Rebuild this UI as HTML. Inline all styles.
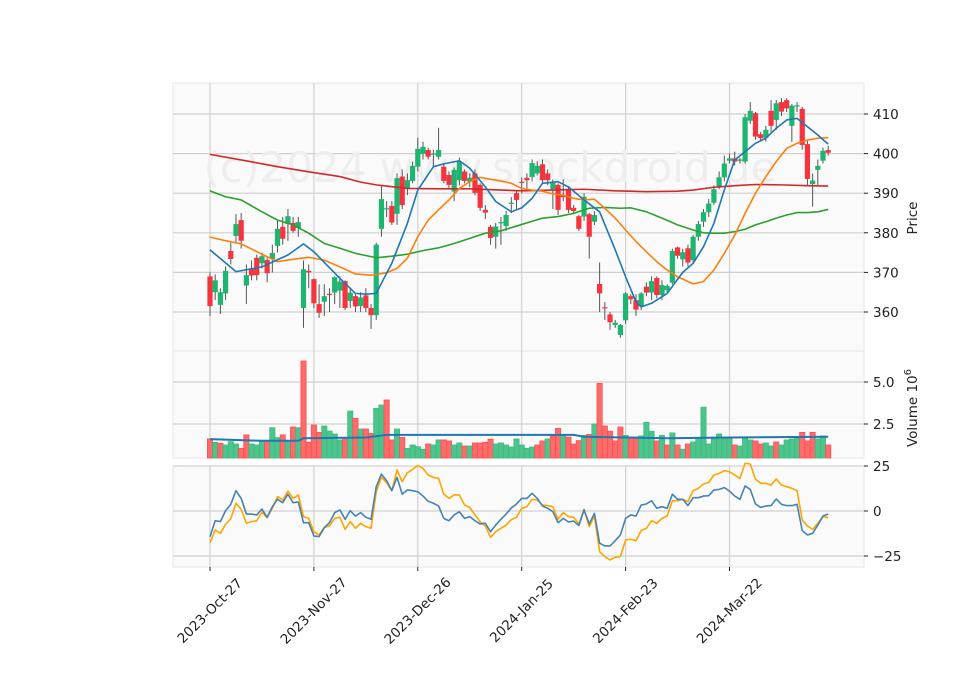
<!DOCTYPE html>
<html><head><meta charset="utf-8"><style>
body{margin:0;background:#fff;}
svg{display:block;font-family:"DejaVu Sans","Liberation Sans",sans-serif;}
</style></head><body>
<svg id="chart" width="960" height="690" viewBox="0 0 960 690">
<text x="490" y="182" font-size="42" fill="#eeeeee" text-anchor="middle">(c)2024 www.stockdroid.de</text>
</svg>
<script>
const opens=[369,365,361.8,364.7,375.4,379.2,383.2,366.7,370.8,373.7,372.3,373.1,373.4,376.7,381.5,382.2,382.5,381.2,361,370.4,368.3,362,362.6,364.6,364.9,365.4,367.8,362.8,364,361.5,364.2,361,359.2,381,386,386.8,384.8,394.2,391.3,393.1,396.7,399.9,400.9,399.8,399.2,396.7,394.6,390.4,393.3,395.5,392.9,395,392.1,385.8,381.5,379,382.5,381.7,387.3,390,392.9,393.9,394.1,395,397.3,395,391,392.1,389.5,390.8,386.3,384.2,384.1,384.7,382.8,367.1,361.2,359.4,356.7,354.2,357.9,364,363,361.4,366.4,364.9,368.6,364.3,365.5,367.4,376.3,373.3,376.1,373.1,379,382.8,385.2,387.6,391.6,394,398.2,398.8,398.2,398,408.3,410.2,404.9,404,410.8,408.5,413,413.5,407,412,411.3,402.4,392.3,395.9,398.2,400.9];
const closes=[361.5,368,365,370.4,373.4,382.2,378,369.3,369.2,369.3,374.1,369.8,374.9,381,378.5,384.2,380.5,382.7,370.8,370,362.2,359.8,364,364.4,368.8,367.7,361,364.9,361.4,363.7,361,359.2,377,388.5,386.2,382.6,393.8,387,393.3,396.9,401.2,401.7,399.2,400,400.9,393.1,392.1,395.9,398,393.1,393.9,390.1,386.3,385.1,378.7,381.6,382.7,384.5,387.6,388.3,392.6,393.3,397.6,396.9,393.3,393.3,392.6,385.8,389,385.8,385.5,381,389.1,379,384.5,364.7,361,357.4,357.3,356.7,364.7,363.2,360.6,364.7,364.9,367.8,364.3,366.8,366.6,375.4,374.2,375.1,372.5,379,382.2,385.2,387.4,391,394,397.5,398.8,398,398.5,409.2,410.8,404.3,403.9,406,407,412.7,410.6,411.4,412.1,412.2,402.2,393.6,393.2,396.9,400.7,400.2];
const highs=[370,369.5,366,371.5,377.5,384.7,385,372,373,374.5,375,374,377,383,384,386,384,384,373,372,368.5,367,367,366,369,369,368,366,364.5,365,366,362,377.5,392,388,388,395,396,395,398,404,403,401.5,401,406.5,397.5,395.5,396.5,399,396,395,396,392.5,387,382,382.5,384,385.5,389,390.5,394,395,398.5,398,398.5,396,393.5,392.5,393.5,391.5,387,384.5,390,385,385.5,372.5,362.5,360,358,357,365,364.5,364.5,365,367.5,369,369,368,367,376,376.5,376,377,379.5,383,386,388.5,392,395.5,399.5,400,400.5,399,410,413,410.5,405.5,407,413.5,413.5,414,414,412.5,413,411.8,403.5,395,398.5,401.5,402];
const lows=[359,363,359.5,363,372,377.4,376,362,368,368,371,367.5,370,375,377,378,380,379,356,366,361,358.5,359,360,362,361,360.5,361,360,360,360,355.7,358,379,384,382,382,386,389.5,392.5,395.5,398.5,398.5,396.5,398.5,392.5,391,388,392,392.5,391.5,389.5,385.5,383.5,377,376,377,380.5,385,386,390,391,393,394.5,392.5,392,386,384.5,388,385,385,380.5,383,373.5,382,360,358,355.5,356,353.5,357,362,359,360.5,364,363,363.5,363,365,367,373.5,371.5,371.5,372.5,378,381.5,384,387,391,393,397.5,397,397.5,397.5,407.5,403.5,403,403,405.5,406,409.5,410.5,403,410.5,401,392,386.6,392,397.5,399.5];
const volumes=[1.61,1.41,1.35,1.25,1.45,1.31,1.05,1.85,1.31,1.25,1.45,1.49,2.28,1.69,1.85,1.49,2.32,2.28,6.25,1.41,2.44,2.0,2.38,2.08,1.9,1.55,1.69,3.27,2.84,2.2,2.2,1.94,3.43,3.63,3.93,1.55,2.2,1.7,1.05,1.25,1.15,1.0,1.31,1.25,1.55,1.55,1.49,1.25,1.37,1.19,1.19,1.37,1.37,1.41,1.59,1.31,1.37,1.25,1.13,1.61,1.25,1.05,1.13,1.25,1.49,1.61,1.79,2.24,1.88,1.72,1.31,1.51,1.82,1.88,2.5,4.92,2.38,2.07,1.49,2.32,1.82,1.72,1.72,1.79,2.6,2.07,1.49,1.82,1.25,1.97,1.25,1.0,1.31,1.43,1.67,3.5,1.31,1.61,1.91,1.61,1.67,1.25,1.19,1.67,1.55,1.49,1.31,1.37,1.19,1.43,1.25,1.55,1.61,1.67,2.0,1.49,2.0,1.61,1.79,1.25];
const volUp=[0,1,0,1,1,1,0,0,1,1,1,0,1,1,0,1,0,1,0,0,0,0,1,1,1,1,0,1,0,1,0,0,1,1,0,0,1,0,1,1,1,1,0,1,1,0,0,1,1,0,1,0,0,0,0,1,1,1,1,1,1,1,1,0,0,1,0,0,1,0,0,0,1,0,1,0,0,0,0,0,1,0,0,1,1,1,0,1,0,1,0,1,0,1,1,1,1,1,1,1,1,0,1,1,1,0,0,1,1,0,1,1,1,1,0,0,0,1,1,0];
const maShortIdx=[0,5,10,15,18,20,25,28,30,32,35,38,40,43,45,48,50,53,55,58,60,62,64,67,69,72,75,78,80,82,83,85,88,91,93,95,97,99,101,103,105,107,109,111,113,115,117,119];
const maShortVal=[375.7,370.2,371.4,374.4,377.2,375.2,368.5,364.7,364.5,364.7,372.3,382.4,390.8,396.7,397.4,398.2,396.3,391.6,387.9,385.3,386.3,388.7,392.5,392.9,391.6,388.3,385.3,375.7,368.9,362.6,361.3,362.2,364.7,370,372.3,376.5,382.4,390.8,398.4,400.5,402.6,403.9,406.4,408.5,408.9,406.8,404.7,402.4];
const maMidIdx=[0,3,6,10,13,16,19,22,25,28,31,34,36,38,40,42,44,46,48,50,52,54,56,58,60,62,64,66,68,70,72,74,76,78,80,82,84,86,88,90,93,95,97,99,101,103,105,107,109,111,113,115,117,119];
const maMidVal=[378.9,378,377.2,374.6,372.7,373.3,373.8,373.1,371.4,369.6,369.3,369.9,371,373.6,379,383.2,385.8,388.3,391.2,392.9,394,393.5,393.1,392.5,391.2,390.8,390.5,389.8,389.5,388.7,388.3,388.5,386.2,383.7,380.7,377.8,375.2,372.7,370.6,368.9,367.1,367.7,370.6,374.8,379.4,384.9,390,394.2,398,401.3,402.6,403.4,403.9,404];
const maLongIdx=[0,3,6,10,13,16,19,22,25,28,32,35,38,41,44,47,50,53,56,59,61,64,67,70,73,76,79,81,84,87,90,93,95,97,99,101,103,105,107,109,111,113,115,117,119];
const maLongVal=[390.6,389.1,388.3,385.3,383.2,382,379.9,377.3,376.1,374.8,373.7,374.1,374.6,375.5,376.2,377.3,378.6,379.9,380.5,381.7,382.5,383.7,384.1,384.9,386.2,386.4,386.2,386.3,385.3,383.7,382,380.7,380,379.9,379.9,380.3,380.9,382,382.8,383.7,384.5,385.1,385.1,385.3,385.9];
const ma200Idx=[0,6,13,19,25,29,32,38,44,50,56,60,66,72,78,84,90,93,97,101,105,110,115,119];
const ma200Val=[399.8,398.4,396.7,395.4,394.2,392.8,392.1,391.2,391.1,391.1,390.8,390.6,390.8,391,390.6,390.4,390.5,390.8,391.5,391.9,392.2,392.1,391.9,391.8];
const volMaIdx=[0,10,17,18,30,34,60,70,72,80,88,100,119];
const volMaVal=[1.6,1.5,1.5,1.65,1.7,1.85,1.85,1.85,1.74,1.7,1.65,1.7,1.74];
const oscBlue=[-14.3,-5.4,-5.9,0.2,3.7,11.3,7,-1.7,-1.7,-2.2,1.1,-3.5,2.4,6.5,4.6,9.3,4.6,5,-6.5,-6.5,-13.9,-14.2,-9.3,-6.5,-0.9,0.6,-4.6,0.2,-2.8,-0.9,-3.5,-4.6,13.5,20.5,16.8,11.3,18.7,9.4,11.7,11.3,10.7,8.3,5.4,4.3,2.8,-4.1,-5.4,-2.2,-0.4,-4.1,-3.1,-5.4,-7.2,-6.8,-11.5,-7.8,-4.6,-1.7,1.7,3.9,7,7,9.8,7,2.8,1.5,-0.4,-6.5,-4.1,-6.1,-5.6,-8.1,0.6,-7.2,-1.3,-17.9,-19.4,-19.4,-16.5,-13.3,-4.1,-2.2,-2.8,3.3,3.9,5.7,1.5,2.4,1.5,9.3,6.5,6.5,3,7.4,7.4,8.3,8.5,11.7,12,13,11.1,8.3,6.5,13.9,12,3.9,2,2.8,3,6.7,3.7,3,3,3.7,-10.9,-13.3,-12.4,-7.8,-2.8,-1.7];
const oscOrange=[-17.6,-10.5,-12.4,-7.4,-4.3,4.3,0.9,-6.8,-5.9,-5.4,-0.7,-3.7,1.5,8,6.1,11.1,7,8.9,-3.1,-4.1,-11.5,-13.3,-9.1,-8.3,-4.1,-3.5,-10.2,-5.9,-9.6,-6.8,-8.7,-9.6,10.7,18.7,15.7,11.3,22.8,16.3,21.3,23.1,25.3,23.7,20,18.7,18.1,9.4,7,8.9,8.9,3.3,2,-2.2,-5.9,-8.3,-14.6,-11.5,-9.6,-7.8,-4.8,-3.5,1.5,2.4,6.5,6.1,3.3,3,2.4,-4.6,-0.9,-3.1,-3.5,-7.2,0.9,-8.7,-2.8,-22.6,-25.3,-27.2,-25.7,-25.3,-16.1,-15.7,-16.5,-10.9,-9.6,-5.4,-6.8,-4.1,-2.8,5.7,5.7,6.5,5.2,11.3,12.6,15,15.9,20,20.9,22.4,21.8,20,18.1,26.5,26.1,17.6,15.4,15.4,14.4,17.8,14.4,13.5,12.6,11.3,-5,-8.3,-10.2,-6.8,-3.1,-3.7];
const tickIdx=[0,20,40,60,80,100];
const tickLabels=["2023-Oct-27","2023-Nov-27","2023-Dec-26","2024-Jan-25","2024-Feb-23","2024-Mar-22"];
const priceTicks=[360,370,380,390,400,410];
const volTicks=[2.5,5.0];
const oscTicks=[-25,0,25];

const NS="http://www.w3.org/2000/svg";
const svg=document.getElementById('chart');
function mk(tag,attrs,parent){const e=document.createElementNS(NS,tag);for(const k in attrs)e.setAttribute(k,attrs[k]);(parent||svg).appendChild(e);return e;}
const L=173,R=864;
const X=i=>210+5.195*i;
const PY=p=>114+(410-p)*3.96;
const VY=v=>466-v*16.8;
const OY=v=>511-v*1.8;
const panels=[[83,351,'price-panel'],[351,458,'volume-panel'],[466,567,'oscillator-panel']];
const wm=svg.firstElementChild;
panels.forEach(p=>{const r=mk('rect',{x:L,y:p[0],width:R-L,height:p[1]-p[0],fill:'#fafafa',stroke:'#e6e6e6','stroke-width':1});

});
const grid=mk('g',{stroke:'#d0d0d0','stroke-width':1.2});


tickIdx.forEach(i=>{panels.forEach(p=>mk('line',{x1:X(i),x2:X(i),y1:p[0],y2:p[1]},grid));});
priceTicks.forEach(t=>mk('line',{x1:L,x2:R,y1:PY(t),y2:PY(t)},grid));
volTicks.forEach(t=>mk('line',{x1:L,x2:R,y1:VY(t),y2:VY(t)},grid));
oscTicks.forEach(t=>mk('line',{x1:L,x2:R,y1:OY(t),y2:OY(t)},grid));
svg.appendChild(wm);
const cg=mk('g',{});


opens.forEach((o,i)=>{const c=closes[i];const up=c>=o;const col=up?'#1db56f':'#f6343f';
mk('line',{x1:X(i),x2:X(i),y1:PY(highs[i]),y2:PY(lows[i]),stroke:'#555','stroke-width':1},cg);
const top=PY(Math.max(o,c)),bot=PY(Math.min(o,c));
const r=mk('rect',{x:X(i)-2.6,y:top,width:5.2,height:Math.max(1.2,bot-top),fill:col},cg);

});
function line(idx,val,f,color,w,name){const pts=idx.map((i,k)=>X(i)+','+f(val[k])).join(' ');const e=mk('polyline',{points:pts,fill:'none',stroke:color,'stroke-width':w,'stroke-linejoin':'round'});

}
line(ma200Idx,ma200Val,PY,'#d62728',1.6,'ma-200');
line(maLongIdx,maLongVal,PY,'#2ca02c',1.6,'ma-50');
line(maMidIdx,maMidVal,PY,'#ff7f0e',1.6,'ma-20');
line(maShortIdx,maShortVal,PY,'#1f77b4',1.6,'ma-10');
const vg=mk('g',{});


volumes.forEach((v,i)=>{const up=volUp[i];const top=VY(v);
const r=mk('rect',{x:X(i)-2.6,y:top,width:5.2,height:458-top,fill:up?'#4cc48c':'#ff6b6b',stroke:up?'#3dbb7e':'#ff4d4d','stroke-width':0.8},vg);

});
line(volMaIdx,volMaVal,VY,'#1f77b4',2,'volume-ma');
const oi=oscBlue.map((v,i)=>i);
line(oi,oscOrange,OY,'#ffa500',1.6,'osc-signal-line');
line(oi,oscBlue,OY,'#4682b4',1.6,'osc-main-line');
function txt(x,y,s,attrs,name){const t=mk('text',Object.assign({x:x,y:y,'font-size':13.5,fill:'#222'},attrs||{}));t.textContent=s;

return t;}
priceTicks.forEach(t=>{mk('line',{x1:R,x2:R+4,y1:PY(t),y2:PY(t),stroke:'#222'});txt(R+9,PY(t)+5,String(t),{},'price-tick-label');});
volTicks.forEach(t=>{mk('line',{x1:R,x2:R+4,y1:VY(t),y2:VY(t),stroke:'#222'});txt(R+9,VY(t)+5,t.toFixed(1),{},'volume-tick-label');});
oscTicks.forEach(t=>{mk('line',{x1:R,x2:R+4,y1:OY(t),y2:OY(t),stroke:'#222'});txt(R+9,OY(t)+5,t<0?'\u2212'+Math.abs(t):String(t),{},'osc-tick-label');});
tickIdx.forEach((i,k)=>{mk('line',{x1:X(i),x2:X(i),y1:567,y2:571,stroke:'#222'});
const cx=X(i)+3,cy=614;
txt(cx,cy,tickLabels[k],{'text-anchor':'middle',transform:'rotate(-45 '+cx+' '+cy+')'},'x-tick-label');});
txt(917,218,'Price',{transform:'rotate(-90 917 218)','text-anchor':'middle'},'price-axis-title');
const vt=txt(917,408,'',{transform:'rotate(-90 917 408)','text-anchor':'middle'},'volume-axis-title');
vt.innerHTML='Volume  10<tspan dy="-6" font-size="10">6</tspan>';
</script>
</body></html>
